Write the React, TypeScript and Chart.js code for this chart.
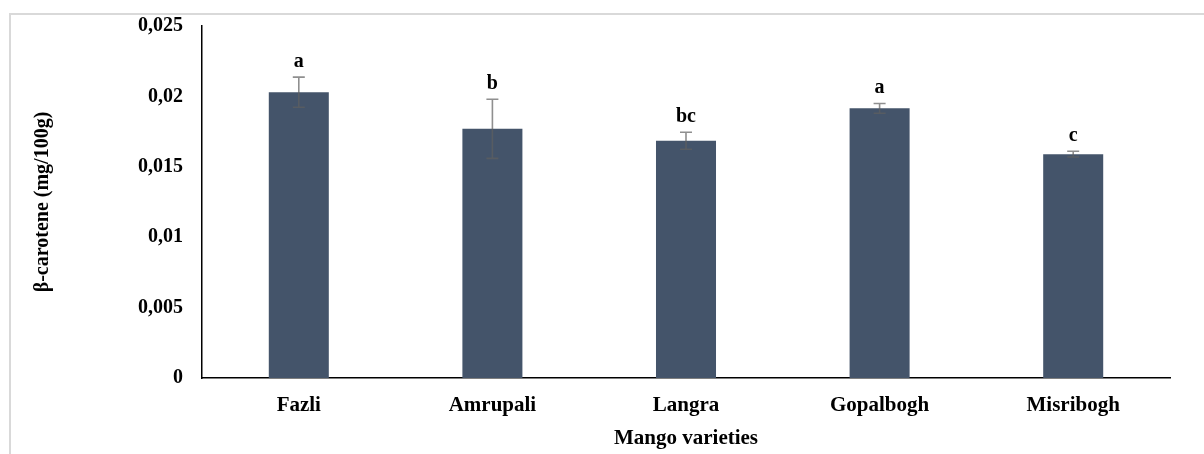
import React, { useEffect, useRef } from "react";
import { Chart, registerables } from "chart.js";

Chart.register(...registerables);

const categories = ["Fazli", "Amrupali", "Langra", "Gopalbogh", "Misribogh"];
const values = [0.0203, 0.0177, 0.01685, 0.01915, 0.0159];
const errors = [0.00107, 0.0021, 0.0006, 0.00035, 0.0002];
const letters = ["a", "b", "bc", "a", "c"];
const yTickLabels = ["0", "0,005", "0,01", "0,015", "0,02", "0,025"];

const FONT = "'Liberation Serif', 'Times New Roman', serif";

const errorBarPlugin = {
  id: "errorBars",
  afterDatasetsDraw(chart: any) {
    const { ctx } = chart;
    const meta = chart.getDatasetMeta(0);
    const y = chart.scales.y;
    ctx.save();
    meta.data.forEach((bar: any, i: number) => {
      const x = bar.x;
      const top = y.getPixelForValue(values[i] + errors[i]);
      const bottom = y.getPixelForValue(values[i] - errors[i]);
      ctx.strokeStyle = "rgba(95,95,95,0.7)";
      ctx.lineWidth = 1.6;
      ctx.beginPath();
      ctx.moveTo(x, top);
      ctx.lineTo(x, bottom);
      ctx.moveTo(x - 6, top);
      ctx.lineTo(x + 6, top);
      ctx.moveTo(x - 6, bottom);
      ctx.lineTo(x + 6, bottom);
      ctx.stroke();
      ctx.fillStyle = "#000";
      ctx.font = `bold 20px ${FONT}`;
      ctx.textAlign = "center";
      ctx.textBaseline = "alphabetic";
      ctx.fillText(letters[i], x, top - 10);
    });
    ctx.restore();
  },
};

export default function App() {
  const ref = useRef<HTMLCanvasElement>(null);
  useEffect(() => {
    if (!ref.current) return;
    const chart = new Chart(ref.current, {
      type: "bar",
      data: {
        labels: categories,
        datasets: [
          {
            data: values,
            backgroundColor: "#44546A",
            borderWidth: 0,
            barPercentage: 0.31,
            categoryPercentage: 1,
          },
        ],
      },
      options: {
        animation: false,
        responsive: false,
        maintainAspectRatio: false,
        layout: { padding: { left: 0, top: 26, right: 34, bottom: 0 } },
        plugins: {
          legend: { display: false },
          tooltip: { enabled: false },
        },
        scales: {
          x: {
            grid: { display: false, drawTicks: false },
            border: { display: true, color: "#000", width: 1.5 },
            ticks: {
              color: "#000",
              font: { family: FONT, size: 21, weight: "bold" },
              padding: 15,
            },
            title: {
              display: true,
              text: "Mango varieties",
              color: "#000",
              font: { family: FONT, size: 21, weight: "bold" },
              padding: { top: 0, bottom: 3 },
            },
            afterFit: (s: any) => {
              s.height = 76;
              s.paddingLeft = 0;
              s.paddingRight = 0;
            },
          },
          y: {
            min: 0,
            max: 0.025,
            grid: { display: false, drawTicks: false },
            border: { display: true, color: "#000", width: 1.5 },
            ticks: {
              stepSize: 0.005,
              color: "#000",
              font: { family: FONT, size: 20, weight: "bold" },
              padding: 19,
              callback: (_v: any, i: number) => yTickLabels[i],
            },
            title: {
              display: true,
              text: "β-carotene (mg/100g)",
              color: "#000",
              font: { family: FONT, size: 20, weight: "bold" },
              padding: { top: 31, bottom: 0 },
            },
            afterFit: (s: any) => {
              s.width = 202;
              s.paddingTop = 0;
              s.paddingBottom = 0;
            },
          },
        },
      },
      plugins: [errorBarPlugin],
    });
    return () => chart.destroy();
  }, []);

  return (
    <div
      style={{
        position: "fixed",
        left: 0,
        top: 0,
        width: 1204,
        height: 454,
        overflow: "hidden",
        background: "#fff",
      }}
    >
      <div
        style={{
          position: "absolute",
          left: 9,
          top: 13,
          width: 1400,
          height: 700,
          border: "2px solid #d9d9d9",
          boxSizing: "border-box",
        }}
      />
      <canvas
        ref={ref}
        width={1204}
        height={454}
        style={{ position: "absolute", left: 0, top: 0, width: 1204, height: 454 }}
      />
    </div>
  );
}
